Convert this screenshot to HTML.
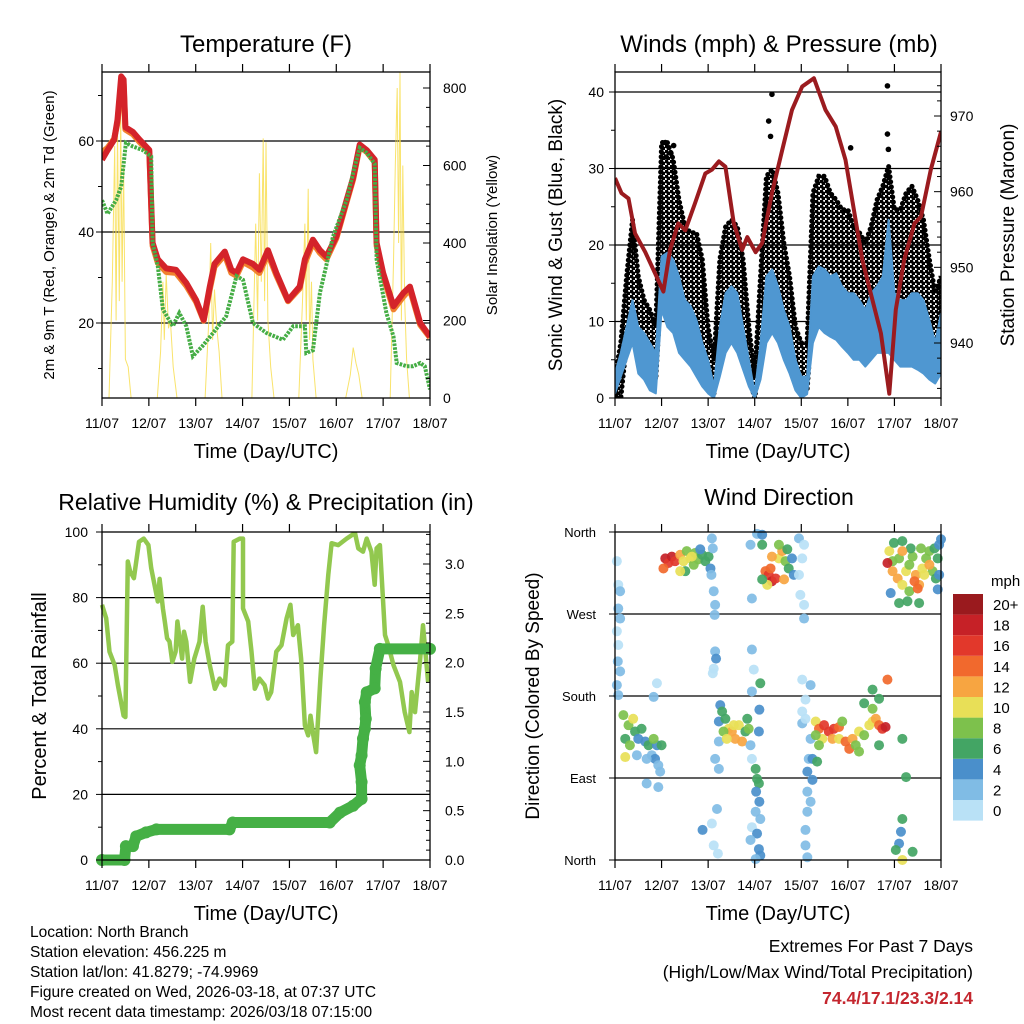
<!DOCTYPE html>
<html><head><meta charset="utf-8"><style>
html,body{margin:0;padding:0;background:#fff;}
svg{display:block;font-family:"Liberation Sans",Arial,sans-serif;}
</style></head><body>
<svg id="chart" width="1024" height="1024" viewBox="0 0 1024 1024" xmlns="http://www.w3.org/2000/svg">
<defs>
<pattern id="gustdots" width="5" height="5" patternUnits="userSpaceOnUse">
<circle cx="1.2" cy="1.2" r="2.1" fill="#000"/><circle cx="3.7" cy="3.7" r="2.1" fill="#000"/>
</pattern>
</defs>
<g id="root"></g>
</svg>
<script>
// ---------------- DATA ----------------
const dayLabels=["11/07","12/07","13/07","14/07","15/07","16/07","17/07","18/07"];
// Temperature panel
const tempDays=[0,.12,.26,.33,.41,.46,.5,.66,.8,1.01,1.08,1.19,1.37,1.58,1.8,2.01,2.17,2.3,2.4,2.62,2.76,2.87,3.01,3.22,3.36,3.54,3.72,3.97,4.22,4.33,4.5,4.65,4.79,5.0,5.22,5.36,5.5,5.65,5.82,5.86,6.0,6.22,6.43,6.57,6.79,7];
const temp2m=[55.9,58,60.3,64.7,74.2,73.5,63,62,60.3,58,37.6,34,32,31.7,28.8,25,20.7,28,33,35.7,31.7,31,34,33,31.7,36,31,25,28,34,38.3,36,34.6,39,47,52,59.2,58,55.9,37.6,31,23.7,26.6,28,20,17];
const temp9m=[57.5,58.5,60.5,64,73,72.5,62.5,61.5,59.8,57.6,37,33.2,31.2,31,28.2,24.6,20.5,27.4,32.4,35,31,30.4,33.4,32.2,31,35.2,30.5,24.8,27.6,33.2,37.6,35.4,34,38.6,46.6,51.6,58.8,57.6,55.4,37,30.4,23,25.8,27.4,19.6,16.8];
const dewDays=[0,.12,.3,.41,.51,.66,.87,1.05,1.08,1.19,1.3,1.51,1.65,1.8,1.94,2.15,2.37,2.65,2.87,3.01,3.22,3.51,3.86,4.08,4.33,4.36,4.5,4.65,4.93,5.22,5.36,5.5,5.65,5.82,5.86,6.07,6.22,6.29,6.5,6.64,6.79,6.89,7];
const dew2m=[47,44,47,50,59.6,58.8,58,56.6,37.6,32.5,23,19.3,22.2,19.3,12.7,15,17.8,21.5,30.3,29.5,20,17.8,16.3,19.3,19.3,13.4,14,26.6,39,47,53,58.5,57.4,55,34,22.2,17,11.2,10.5,10.5,11.2,10.5,5.4];
const solarDays=[0,.15,.22,.27,.30,.33,.37,.40,.43,.46,.5,.56,.62,1.18,1.25,1.3,1.33,1.37,1.42,1.46,1.52,1.6,2.2,2.28,2.32,2.36,2.4,2.45,2.5,2.56,3.2,3.28,3.32,3.36,3.4,3.44,3.47,3.5,3.54,3.6,3.67,4.2,4.28,4.33,4.36,4.4,4.43,4.47,4.5,4.57,5.2,5.3,5.36,5.42,5.48,5.55,6.15,6.22,6.26,6.3,6.33,6.36,6.39,6.42,6.46,6.5,6.56,7];
const solarVals=[0,0,300,650,200,700,250,740,300,600,100,80,0,0,120,300,150,320,180,200,80,0,0,200,400,150,280,180,120,0,0,450,200,580,300,670,250,660,200,80,0,0,250,450,200,540,150,300,100,0,0,60,130,90,60,0,0,350,600,800,400,840,200,600,250,100,0,0];
const tempTicks=[20,40,60];
const solarTicks=[0,200,400,600,800];
// Wind panel (3-hourly samples)
const windDays=[0,.125,.25,.375,.5,.625,.75,.875,1,1.125,1.25,1.375,1.5,1.625,1.75,1.875,2,2.125,2.25,2.375,2.5,2.625,2.75,2.875,3,3.125,3.25,3.375,3.5,3.625,3.75,3.875,4,4.125,4.25,4.375,4.5,4.625,4.75,4.875,5,5.125,5.25,5.375,5.5,5.625,5.75,5.875,6,6.125,6.25,6.375,6.5,6.625,6.75,6.875,7];
const speedHi=[3.2,5.9,9.3,12.8,9.3,8.5,7.2,5.9,18.5,19,18.1,15.9,12.8,12,10.2,7.2,5,1.5,9.3,13.7,14.6,13.7,9.3,5,0.6,7.2,15.9,16.8,14.6,11.5,9.3,5,2.8,2.8,15.9,17.2,16.8,15.9,16.3,14.6,13.7,13.7,12.8,11.5,13.7,14.6,15.9,23.3,13.7,12.8,12.8,13.7,13.7,12.8,10.2,7.2,11.1];
const speedLo=[0.6,2.8,5,7.2,3.2,2.4,1,0.6,11.5,9.3,8.5,5.9,5,4.1,2.8,1.5,0.6,0,2.8,5.9,7.2,5.9,3.7,1.5,0,2.4,7.2,8.5,7.2,5,3.2,1,0,0.5,7.2,9.3,8.5,8,7.6,6.7,5.9,5,5,4.1,5,5.9,5.9,5.9,5,4.1,4.1,4.1,3.7,3.2,2.4,1.9,3.2];
const gustHi=[2.8,7.2,15.9,23.3,15.9,12.8,11.5,9.3,33.4,33.4,31.2,25.9,22.4,21.6,21.6,18.1,9.3,5,18.1,22.4,23.3,22.4,18.1,9.3,2.8,15.9,29,29.9,26.8,20.3,15.9,9.3,7.2,7.2,26.8,29,29,26.8,25.9,24.6,24.6,22.4,21.6,20.3,22.4,25.9,27.7,30.3,24.6,24.6,26.8,27.7,25.9,23.3,18.1,13.7,15.9];
const gustLo=[0,0,7.2,10.2,6.3,5.9,5,2.4,15.9,13.7,11.5,9.3,8,7.2,5.9,4.1,1.5,0.6,5,9.3,10.2,9.3,5.9,2.8,0,5,11.5,13.7,11.5,8.5,6.3,2.8,1.5,1,11.5,13.7,13.7,12.8,12.8,11.5,11.1,10.2,10.2,9.3,10.2,11.1,12,12.8,11.1,10.7,12,12.4,11.1,9.3,6.7,5.9,7.2];
const gustOutDays=[3.37,3.3,3.34,5.85,5.85,5.87,1.08,1.26,5.06,1.1,1.2];
const gustOutVals=[39.7,36.2,34.2,40.8,34.5,32.5,33.4,33,32.7,31.5,32];
const presDays=[0,.14,.29,.43,.65,.86,1.04,1.18,1.36,1.51,1.72,1.94,2.08,2.23,2.37,2.55,2.73,2.84,3.02,3.16,3.37,3.59,3.8,4.02,4.27,4.52,4.74,4.95,5.13,5.31,5.49,5.71,5.89,6.03,6.21,6.43,6.57,6.78,7];
const presVals=[961.8,959.8,959.1,954.5,952,949.2,946.8,952.3,955.8,954.9,958.5,962.4,962.9,964,963.3,955.8,952.3,954,952,953.2,959.8,965.5,970.8,973.9,975,970.8,968.6,964.2,957.6,951,946.6,941.3,933.3,944.4,951,955.8,956.7,962.9,967.9];
const windTicks=[0,10,20,30,40];
const presTicks=[940,950,960,970];
// RH / precip panel
const rhDays=[0,.09,.16,.27,.34,.46,.5,.55,.55,.6,.68,.79,.89,.99,1.05,1.19,1.23,1.3,1.34,1.39,1.44,1.5,1.57,1.61,1.71,1.75,1.8,1.88,1.97,2.08,2.15,2.21,2.3,2.41,2.51,2.62,2.69,2.78,2.81,2.94,3.01,3.01,3.12,3.19,3.26,3.36,3.47,3.54,3.61,3.72,3.83,3.94,4.02,4.08,4.18,4.25,4.33,4.4,4.45,4.51,4.57,4.66,4.74,4.83,4.9,5.04,5.22,5.4,5.47,5.57,5.65,5.75,5.82,5.86,5.93,6.0,6.04,6.11,6.22,6.36,6.46,6.56,6.61,6.68,6.79,6.85,6.96];
const rhVals=[77.8,73.7,63.5,59.4,53.3,44,43.6,91,91,88,85.9,97,98,96,89,78.8,85.7,76.7,72.7,67.6,66.6,60.4,63.5,72.7,61.4,69.6,66.6,54.3,61.4,66.6,77.2,66.6,59.4,52.2,55.3,53.3,65.5,66.6,97,98,98,76.7,72.7,63.5,52.2,55.3,53.3,49.2,51.2,63.5,65.5,73.7,77.8,68.6,71.6,61.4,41,38,44,38,32.9,55.3,71.6,87,96.6,96,98,99.7,95,94,98,94,83.9,95,96,78.8,68.6,65.5,59.4,54.3,45.1,39,51.2,45.1,61.4,71.6,54.3];
const rainDays=[0,.48,.51,.66,.73,.94,1.16,2.72,2.79,4.86,5.08,5.36,5.54,5.54,5.5,5.54,5.57,5.61,5.63,5.61,5.65,5.82,5.84,5.93,7];
const rainVals=[0,0,0.14,0.14,0.24,0.28,0.31,0.31,0.38,0.38,0.48,0.55,0.62,0.79,0.96,1.06,1.23,1.33,1.43,1.6,1.7,1.74,1.94,2.14,2.14];
const rhTicks=[0,20,40,60,80,100];
const rainTicks=["0.0","0.5","1.0","1.5","2.0","2.5","3.0"];
// Wind direction panel
const dirTickNames=["North","East","South","West","North"];
const dirTickDeg=[0,90,180,270,360];
const dirDays=[.04,.07,.11,.07,.11,.04,.07,.06,.11,.04,.07,.18,.29,.39,.43,.22,.5,.57,.65,.72,.79,.86,.93,.97,.9,1.0,.32,.47,.68,.83,.9,.83,.68,.93,.22,
1.08,1.15,1.22,1.29,1.04,1.4,1.47,1.54,1.62,1.69,1.72,1.79,1.87,1.94,2.01,2.05,1.51,1.83,1.4,1.65,2.08,2.1,2.07,2.12,2.15,2.14,2.15,2.17,2.12,2.1,
2.26,2.3,2.23,2.37,2.44,2.51,2.58,2.66,2.73,2.8,2.84,2.87,2.33,2.23,2.55,2.4,2.15,2.23,2.19,2.12,2.21,1.88,2.08,
2.91,2.94,2.94,2.98,2.94,3.12,3.1,3.09,2.91,2.94,3.02,3.05,3.09,3.03,3.1,3.02,3.12,2.94,3.05,2.91,3.09,3.12,3.02,3.05,3.16,3.16,
3.23,3.3,3.37,3.34,3.45,3.27,3.52,3.59,3.66,3.73,3.8,3.52,3.63,3.84,3.37,3.7,3.16,
3.95,4.06,4.02,3.95,3.98,4.06,4.06,4.02,4.2,4.09,4.02,4.02,4.09,4.2,4.16,4.13,4.24,4.13,4.2,4.13,4.09,4.09,4.13,
4.31,4.38,4.49,4.59,4.7,4.81,4.45,4.38,4.67,4.81,4.95,5.03,5.1,5.17,5.24,5.35,5.46,5.53,5.6,5.67,5.74,5.81,5.85,5.53,5.67,5.35,5.53,4.24,4.34,5.24,5.67,4.88,4.31,
6.17,6.25,6.17,6.14,6.1,6.03,6.39,6.17,
5.89,5.96,6.1,5.96,6.07,6.17,6.25,6.32,6.39,6.46,6.53,6.6,6.68,6.75,6.86,6.93,6.96,7.0,6.82,6.89,6.96,6.32,6.1,6.28,6.53,5.92,6.93,5.85,5.99,6.17,6.57,6.35,6.5,6.43,6.64,6.75,6.17];
const dirDeg=[328,302,295,276,265,251,236,218,207,192,181,159,148,155,141,133,133,144,130,126,115,111,104,97,126,126,126,115,111,133,194,179,84,80,113,
331,326,333,328,320,335,328,339,331,324,337,330,335,328,333,320,317,341,317,333,353,342,313,295,280,269,229,221,210,205,
170,163,152,155,144,141,133,148,130,141,155,144,141,130,148,133,111,100,56,16,7,33,40,
346,287,231,209,185,194,165,141,126,111,100,89,84,75,64,53,45,36,29,22,12,5,1,358,357,346,
317,313,306,320,309,302,331,339,328,320,331,346,308,313,333,341,308,
353,346,331,313,291,280,265,198,192,176,163,150,155,133,111,97,88,75,64,53,33,16,3,
152,144,148,141,144,146,133,126,133,133,130,122,133,126,141,137,148,152,155,148,144,146,198,187,177,172,166,111,108,119,126,152,137,
133,91,45,31,18,11,9,0,
339,328,331,317,309,302,317,324,333,313,302,320,331,339,342,331,346,352,317,309,313,295,282,284,282,293,297,326,348,350,342,342,298,306,313,324,339];
const dirSpeed=[1,1,2,2,2,1,1,2,2,2,3,8,9,11,7,6,5,6,4,6,3,4,3,2,5,7,9,3,3,8,1,3,2,2,10,
18,17,18,16,15,12,11,9,10,9,8,9,7,7,6,4,7,5,10,11,2,3,3,3,3,2,3,4,1,1,
5,6,4,6,11,12,13,11,12,7,6,8,8,3,10,11,3,2,2,1,1,4,1,
3,2,2,1,2,6,4,4,3,1,6,7,6,4,4,3,3,1,4,3,4,4,3,3,4,6,
14,16,18,15,16,11,10,12,8,6,4,9,13,5,12,7,7,
2,1,1,1,1,1,3,1,2,1,1,2,1,3,3,4,4,2,3,2,3,3,2,
10,14,17,16,16,14,11,8,12,10,15,14,12,9,10,8,11,10,12,14,16,18,14,7,6,6,9,5,6,9,7,9,9,
6,6,6,4,4,6,6,10,
10,9,8,12,13,11,10,8,9,12,13,11,9,8,7,6,4,4,9,7,5,9,7,6,7,4,4,18,7,6,9,7,14,15,10,12,12];
const speedBinLabels=["0","2","4","6","8","10","12","14","16","18","20+"];
const speedBinColors=["#b9e1f6","#80bce5","#4a8fcb","#43a564","#7dc14c","#e8df57","#f7a541","#f1692d","#e2382b","#c62127","#9a1a1e"];

// ---------------- RENDER ----------------
const NS="http://www.w3.org/2000/svg";
const root=document.getElementById('root');
function mk(tag,attrs,parent,text){
  const e=document.createElementNS(NS,tag);
  for(const k in attrs)e.setAttribute(k,attrs[k]);
  if(text!==undefined)e.textContent=text;
  (parent||root).appendChild(e);return e;
}
function grp(name,parent){const g=mk('g',{},parent);
  
  
  return g;}
function label(parent,name,x,y,txt,size,anchor,extra){
  const a=Object.assign({x:x,y:y,'font-size':size,'text-anchor':anchor||'middle',fill:'#000'},extra||{});
  const t=mk('text',a,parent,txt);
  
  
  return t;
}
function linear(d0,d1,r0,r1){return v=>r0+(v-d0)*(r1-r0)/(d1-d0);}
function pathFrom(xs,ys,sx,sy){return xs.map((d,i)=>(i?'L':'M')+sx(d).toFixed(1)+','+sy(ys[i]).toFixed(1)).join('');}

function frame(g,P){
  const f=mk('rect',{x:P.x0,y:P.y0,width:P.x1-P.x0,height:P.y1-P.y0,fill:'none',stroke:'#000','stroke-width':1.3},g);
  
  
}
function xAxis(g,P,sx){
  const ax=grp('x-axis',g);
  dayLabels.forEach((l,i)=>{
    const x=sx(i);
    mk('line',{x1:x,y1:P.y1,x2:x,y2:P.y1+8,stroke:'#000','stroke-width':1.2},ax);
    mk('line',{x1:x,y1:P.y0,x2:x,y2:P.y0-8,stroke:'#000','stroke-width':1.2},ax);
    label(ax,'x-tick-label',x,P.y1+30,l,14);
  });
  label(ax,'x-axis-title',(P.x0+P.x1)/2,P.y1+60,'Time (Day/UTC)',20);
}

// Panel 1: temperature
(function(){
  const P={x0:102,x1:430,y0:72,y1:398};
  const g=grp('temperature-panel');
  const sx=linear(0,7,P.x0,P.x1);
  const sy=linear(20,60,323,141);
  const sr=linear(0,800,398,88);
  label(g,'temperature-title',266,52,'Temperature (F)',24);
  const clip=mk('clipPath',{id:'c1'},g);mk('rect',{x:P.x0,y:P.y0,width:P.x1-P.x0,height:P.y1-P.y0},clip);
  const grid=grp('gridlines',g);
  tempTicks.forEach(v=>mk('line',{x1:P.x0,x2:P.x1,y1:sy(v),y2:sy(v),stroke:'#000','stroke-width':1.2},grid));
  const data=grp('series',g);data.setAttribute('clip-path','url(#c1)');
  const sol=mk('path',{d:pathFrom(solarDays,solarVals,sx,sr),fill:'none',stroke:'#f7d93a','stroke-width':1,'stroke-opacity':0.75},data);
  
  
  const t9=mk('path',{d:pathFrom(tempDays,temp9m,sx,sy),fill:'none',stroke:'#f1812e','stroke-width':6,'stroke-linejoin':'round'},data);
  
  
  const t2=mk('path',{d:pathFrom(tempDays,temp2m,sx,sy),fill:'none',stroke:'#d4232a','stroke-width':6,'stroke-linejoin':'round'},data);
  
  
  const td=mk('path',{d:pathFrom(dewDays,dew2m,sx,sy),fill:'none',stroke:'#45ad45','stroke-width':4,'stroke-dasharray':'2.6 1.2'},data);
  
  
  frame(g,P);
  const ly=grp('left-y-axis',g);
  for(let v=10;v<=70;v+=10){const y=sy(v);mk('line',{x1:P.x0-(v%20?4:6),x2:P.x0,y1:y,y2:y,stroke:'#000','stroke-width':1},ly);}
  tempTicks.forEach(v=>label(ly,'y-tick-label',94,sy(v)+5,String(v),14,'end'));
  label(ly,'left-y-axis-title',54,235,'2m & 9m T (Red, Orange) & 2m Td (Green)',15,'middle',{transform:'rotate(-90 54 235)'});
  const ry=grp('right-y-axis',g);
  for(let v=0;v<=850;v+=50){const y=sr(v);if(y<P.y0)continue;mk('line',{x1:P.x1-(v%200?4:7),x2:P.x1,y1:y,y2:y,stroke:'#000','stroke-width':1},ry);}
  solarTicks.forEach(v=>label(ry,'right-tick-label',443,sr(v)+5,String(v),14,'start'));
  label(ry,'right-y-axis-title',497,235,'Solar Insolation (Yellow)',15,'middle',{transform:'rotate(-90 497 235)'});
  xAxis(g,P,sx);
})();

// Panel 2: winds & pressure
(function(){
  const P={x0:615,x1:941,y0:72,y1:398};
  const g=grp('winds-panel');
  const sx=linear(0,7,P.x0,P.x1);
  const sy=linear(0,40,398,92);
  const sp=linear(940,970,343,116);
  label(g,'winds-title',779,52,'Winds (mph) & Pressure (mb)',24);
  const clip=mk('clipPath',{id:'c2'},g);mk('rect',{x:P.x0,y:P.y0,width:P.x1-P.x0,height:P.y1-P.y0},clip);
  const grid=grp('gridlines',g);
  windTicks.slice(1).forEach(v=>mk('line',{x1:P.x0,x2:P.x1,y1:sy(v),y2:sy(v),stroke:'#000','stroke-width':1.2},grid));
  const data=grp('series',g);data.setAttribute('clip-path','url(#c2)');
  const top=windDays.map((d,i)=>sx(d).toFixed(1)+','+sy(gustHi[i]).toFixed(1));
  const bot=windDays.map((d,i)=>sx(d).toFixed(1)+','+sy(gustLo[i]).toFixed(1)).reverse();
  const gust=mk('polygon',{points:top.concat(bot).join(' '),fill:'url(#gustdots)',stroke:'#000','stroke-width':5,'stroke-dasharray':'0.1 5','stroke-linecap':'round'},data);
  
  
  gustOutDays.forEach((d,i)=>{
    const c=mk('circle',{cx:sx(d),cy:sy(gustOutVals[i]),r:2.8,fill:'#000'},data);
    
    
  });
  const top2=windDays.map((d,i)=>sx(d).toFixed(1)+','+sy(speedHi[i]).toFixed(1));
  const bot2=windDays.map((d,i)=>sx(d).toFixed(1)+','+sy(speedLo[i]).toFixed(1)).reverse();
  const sp1=mk('polygon',{points:top2.concat(bot2).join(' '),fill:'#4f97d1',stroke:'#4f97d1','stroke-width':2,'stroke-linejoin':'round'},data);
  
  
  const pr=mk('path',{d:pathFrom(presDays,presVals,sx,sp),fill:'none',stroke:'#9b1b1f','stroke-width':4,'stroke-linejoin':'round'},data);
  
  
  frame(g,P);
  const ly=grp('left-y-axis',g);
  for(let v=0;v<=40;v+=5){const y=sy(v);mk('line',{x1:P.x0-(v%10?4:6),x2:P.x0,y1:y,y2:y,stroke:'#000','stroke-width':1},ly);}
  windTicks.forEach(v=>label(ly,'y-tick-label',604,sy(v)+5,String(v),14,'end'));
  label(ly,'left-y-axis-title',562,235,'Sonic Wind & Gust (Blue, Black)',19,'middle',{transform:'rotate(-90 562 235)'});
  const ry=grp('right-y-axis',g);
  for(let v=934;v<=976;v+=2){const y=sp(v);if(y<P.y0||y>P.y1)continue;mk('line',{x1:P.x1-(v%10?4:7),x2:P.x1,y1:y,y2:y,stroke:'#000','stroke-width':1},ry);}
  presTicks.forEach(v=>label(ry,'right-tick-label',950,sp(v)+5,String(v),14,'start'));
  label(ry,'right-y-axis-title',1014,235,'Station Pressure (Maroon)',19,'middle',{transform:'rotate(-90 1014 235)'});
  xAxis(g,P,sx);
})();

// Panel 3: RH & precip
(function(){
  const P={x0:102,x1:430,y0:532,y1:860};
  const g=grp('humidity-panel');
  const sx=linear(0,7,P.x0,P.x1);
  const sy=linear(0,100,860,532);
  const sr=linear(0,3,860,564);
  label(g,'humidity-title',266,510,'Relative Humidity (%) & Precipitation (in)',23);
  const clip=mk('clipPath',{id:'c3'},g);mk('rect',{x:P.x0-8,y:P.y0,width:P.x1-P.x0+16,height:P.y1-P.y0+8},clip);
  const grid=grp('gridlines',g);
  rhTicks.slice(1,5).forEach(v=>mk('line',{x1:P.x0,x2:P.x1,y1:sy(v),y2:sy(v),stroke:'#000','stroke-width':1.2},grid));
  const data=grp('series',g);data.setAttribute('clip-path','url(#c3)');
  const rh=mk('path',{d:pathFrom(rhDays,rhVals,sx,sy),fill:'none',stroke:'#92c84f','stroke-width':4.5,'stroke-linejoin':'round'},data);
  
  
  const rn=mk('path',{d:pathFrom(rainDays,rainVals,sx,sr),fill:'none',stroke:'#45b045','stroke-width':11,'stroke-linejoin':'round','stroke-linecap':'round'},data);
  
  
  rainDays.forEach((d,i)=>{
    const c=mk('circle',{cx:sx(d),cy:sr(rainVals[i]),r:6,fill:'#45b045'},data);
    
    
  });
  frame(g,P);
  const ly=grp('left-y-axis',g);
  for(let v=0;v<=100;v+=10){const y=sy(v);mk('line',{x1:P.x0-(v%20?4:6),x2:P.x0,y1:y,y2:y,stroke:'#000','stroke-width':1},ly);}
  rhTicks.forEach(v=>label(ly,'y-tick-label',88,sy(v)+5,String(v),14,'end'));
  label(ly,'left-y-axis-title',46,696,'Percent & Total Rainfall',20,'middle',{transform:'rotate(-90 46 696)'});
  const ry=grp('right-y-axis',g);
  for(let k=0;k<=33;k++){const v=k/10;const y=sr(v);if(y<P.y0)continue;mk('line',{x1:P.x1-(k%5?4:7),x2:P.x1,y1:y,y2:y,stroke:'#000','stroke-width':1},ry);}
  rainTicks.forEach(t=>label(ry,'right-tick-label',445,sr(parseFloat(t))+5,t,14,'start'));
  xAxis(g,P,sx);
})();

// Panel 4: wind direction
(function(){
  const P={x0:615,x1:941,y0:532,y1:860};
  const g=grp('wind-direction-panel');
  const sx=linear(0,7,P.x0,P.x1);
  const sy=linear(0,360,860,532);
  label(g,'wind-direction-title',779,505,'Wind Direction',23);
  const grid=grp('gridlines',g);
  [90,180,270].forEach(v=>mk('line',{x1:P.x0,x2:P.x1,y1:sy(v),y2:sy(v),stroke:'#000','stroke-width':1.2},grid));
  const data=grp('series',g);
  dirDays.forEach((d,i)=>{
    const bin=Math.min(10,Math.floor(dirSpeed[i]/2));
    const c=mk('circle',{cx:sx(d),cy:sy(dirDeg[i]),r:5,fill:speedBinColors[bin],'fill-opacity':0.92},data);
    
    
  });
  frame(g,P);
  const ly=grp('left-y-axis',g);
  dirTickDeg.forEach((v,i)=>{const y=sy(v);mk('line',{x1:P.x0-6,x2:P.x0,y1:y,y2:y,stroke:'#000','stroke-width':1},ly);
    label(ly,'y-tick-label',596,y+5,dirTickNames[i],13,'end');});
  label(ly,'left-y-axis-title',539,696,'Direction (Colored By Speed)',19,'middle',{transform:'rotate(-90 539 696)'});
  xAxis(g,P,sx);
  const cb=grp('speed-colorbar',g);
  label(cb,'colorbar-unit',991,586,'mph',15,'start');
  speedBinLabels.forEach((l,i)=>{
    const y=594+(10-i)*20.6;
    const r=mk('rect',{x:953,y:y,width:30,height:20.6,fill:speedBinColors[i]},cb);
    
    
    label(cb,'colorbar-label',993,y+16,l,15,'start');
  });
})();

// Footer text
(function(){
  const g=grp('station-info');
  const lines=["Location: North Branch","Station elevation: 456.225 m","Station lat/lon: 41.8279; -74.9969","Figure created on Wed, 2026-03-18, at 07:37 UTC","Most recent data timestamp: 2026/03/18 07:15:00"];
  lines.forEach((l,i)=>label(g,'station-info-line',30,937+i*20,l,15.5,'start'));
  const e=grp('extremes-box');
  label(e,'extremes-title',973,952,'Extremes For Past 7 Days',17.5,'end');
  label(e,'extremes-subtitle',973,978,'(High/Low/Max Wind/Total Precipitation)',17.5,'end');
  label(e,'extremes-values',973,1004,'74.4/17.1/23.3/2.14',17.5,'end',{fill:'#c4262e','font-weight':'bold'});
})();
</script>
</body></html>
